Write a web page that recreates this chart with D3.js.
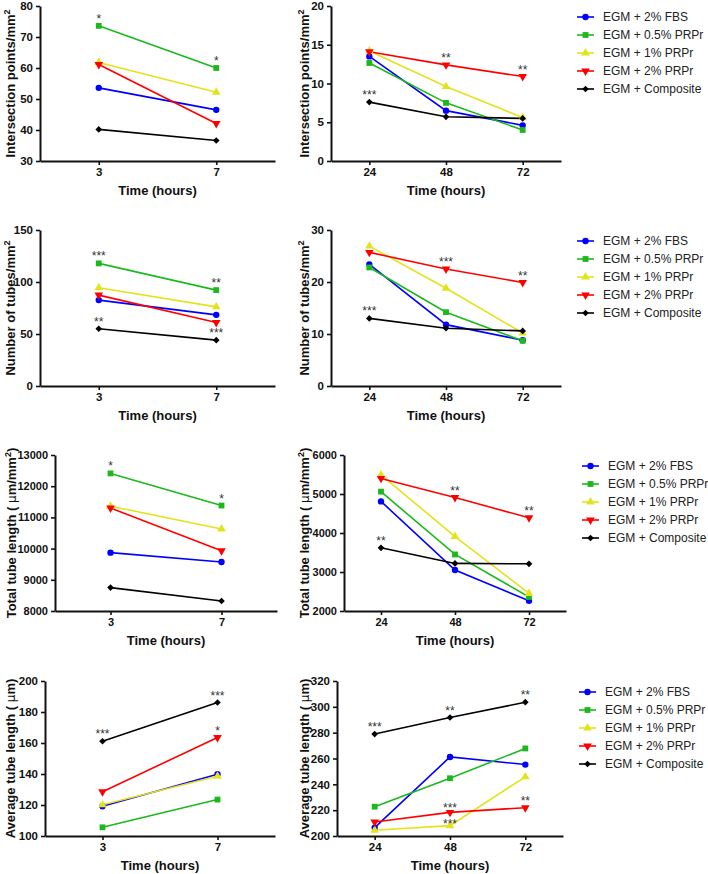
<!DOCTYPE html>
<html>
<head>
<meta charset="utf-8">
<script src="https://cdn.jsdelivr.net/npm/d3@7"></script>
<style>
  html, body { margin: 0; padding: 0; background: #fff; }
  svg { display: block; font-family: Arial, "Liberation Sans", sans-serif; }
</style>
</head>
<body>
<svg id="chart" width="708" height="874"></svg>
<script>
// ---------- data ----------
const groups = ["EGM + 2% FBS", "EGM + 0.5% PRPr", "EGM + 1% PRPr", "EGM + 2% PRPr", "EGM + Composite"];
const earlyTimes = [3, 7];
const lateTimes = [24, 48, 72];

const intersectEarly = [[53.6, 46.5], [73.6, 60.0], [61.8, 52.2], [61.1, 42.1], [40.2, 36.6]];
const intersectLate = [[13.5, 6.5, 4.6], [12.65, 7.5, 4.0], [14.2, 9.6, 5.6], [14.1, 12.4, 10.9], [7.6, 5.7, 5.5]];
const tubesEarly = [[82.6, 68.4], [117.9, 92.2], [94.4, 76.1], [87.4, 61.1], [55.1, 44.1]];
const tubesLate = [[23.4, 11.8, 8.8], [22.8, 14.2, 8.7], [26.9, 18.8, 10.2], [25.7, 22.5, 19.9], [13.0, 11.1, 10.6]];
const lengthEarly = [[9870, 9570], [12410, 11380], [11360, 10630], [11300, 9930], [8750, 8320]];
const lengthLate = [[4810, 3050, 2260], [5060, 3450, 2360], [5490, 3910, 2450], [5400, 4910, 4390], [3620, 3220, 3210]];
const avgEarly = [[119.2, 139.8], [105.6, 123.5], [120.1, 138.5], [128.6, 163.5], [161.1, 186.1]];
const avgLate = [[206.5, 261.2, 255.3], [222.7, 244.7, 267.8], [204.4, 208.0, 245.8], [210.8, 218.3, 221.9], [278.9, 291.7, 303.6]];

// significance marks: [group index, time index, label]
const intersectEarlyStars = [[1, 0, "*"], [1, 1, "*"]];
const intersectLateStars = [[4, 0, "***"], [3, 1, "**"], [3, 2, "**"]];
const tubesEarlyStars = [[1, 0, "***"], [1, 1, "**"], [4, 0, "**"], [4, 1, "***"]];
const tubesLateStars = [[4, 0, "***"], [3, 1, "***"], [3, 2, "**"]];
const lengthEarlyStars = [[1, 0, "*"], [1, 1, "*"]];
const lengthLateStars = [[4, 0, "**"], [3, 1, "**"], [3, 2, "**"]];
const avgEarlyStars = [[4, 0, "***"], [4, 1, "***"], [3, 1, "*"]];
const avgLateStars = [[4, 0, "***"], [4, 1, "**"], [4, 2, "**"], [3, 1, "***"], [2, 1, "***"], [3, 2, "**"]];

// axis ticks
const intersectEarlyTicks = [30, 40, 50, 60, 70, 80];
const intersectLateTicks = [0, 5, 10, 15, 20];
const tubesEarlyTicks = [0, 50, 100, 150];
const tubesLateTicks = [0, 10, 20, 30];
const lengthEarlyTicks = [8000, 9000, 10000, 11000, 12000, 13000];
const lengthLateTicks = [2000, 3000, 4000, 5000, 6000];
const avgEarlyTicks = [100, 120, 140, 160, 180, 200];
const avgLateTicks = [200, 220, 240, 260, 280, 300, 320];

// ---------- style ----------
const colors = ["#0000FF", "#1DB81D", "#E3E31B", "#FF0000", "#000000"];
const symbols = [d3.symbolCircle, d3.symbolSquare, d3.symbolTriangle, d3.symbolTriangle, d3.symbolSquare];
const symSizes = [32, 34, 32, 32, 22];
const symRot = [0, 0, 0, 180, 45];
// small vertical nudges (px) for crowded significance labels: "panelKey:group:time"
const starNudge = { "avgLate:3:1": 3, "avgLate:2:1": 5 };

const svg = d3.select("#chart");

function marker(g, i, x, y) {
  g.append("path")
    .attr("d", d3.symbol().type(symbols[i]).size(symSizes[i])())
    .attr("transform", `translate(${x},${y}) rotate(${symRot[i]})`)
    .attr("fill", colors[i]);
}

function yLabel(g, parts, x, yMid) {
  const t = g.append("text")
    .attr("transform", `translate(${x},${yMid}) rotate(-90)`)
    .attr("text-anchor", "middle")
    .attr("font-size", 13)
    .attr("font-weight", "bold")
    .attr("fill", "#111");
  parts.forEach(p => {
    const ts = t.append("tspan").text(p.t);
    if (p.sup) ts.attr("baseline-shift", "super").attr("font-size", 9);
    if (p.thin) ts.attr("font-weight", "normal").attr("font-family", "DejaVu Sans, sans-serif").attr("font-size", 12);
  });
}

function panel(cfg) {
  const g = svg.append("g");
  const x = d3.scalePoint().domain(cfg.times).range([cfg.x0, cfg.x1]).padding(0.5);
  const y = d3.scaleLinear().domain(cfg.domain).range([cfg.bottom, cfg.top]);

  const ya = g.append("g").attr("transform", `translate(${cfg.x0},0)`)
    .call(d3.axisLeft(y).tickValues(cfg.ticks).tickSize(4).tickSizeOuter(0).tickPadding(3).tickFormat(d3.format("d")));
  const xa = g.append("g").attr("transform", `translate(0,${cfg.bottom})`)
    .call(d3.axisBottom(x).tickSize(4).tickSizeOuter(0).tickPadding(3));
  [ya, xa].forEach(a => {
    a.select(".domain").attr("stroke", "#111").attr("stroke-width", 2);
    a.selectAll(".tick line").attr("stroke", "#111").attr("stroke-width", 1.6);
    a.selectAll(".tick text").attr("font-size", cfg.tickFont || 11.5).attr("font-weight", "bold")
      .attr("fill", "#111").attr("font-family", "Arial, Liberation Sans, sans-serif");
  });

  g.append("text")
    .attr("x", (cfg.x0 + cfg.x1) / 2).attr("y", cfg.bottom + 34)
    .attr("text-anchor", "middle").attr("font-size", 13).attr("font-weight", "bold").attr("fill", "#111")
    .text("Time (hours)");

  yLabel(g, cfg.label, cfg.labelX, (cfg.top + cfg.bottom) / 2);

  const line = d3.line().x((d, j) => x(cfg.times[j])).y(d => y(d));
  cfg.data.forEach((vals, i) => {
    g.append("path").attr("d", line(vals)).attr("fill", "none")
      .attr("stroke", colors[i]).attr("stroke-width", 1.6);
  });
  cfg.data.forEach((vals, i) => {
    vals.forEach((v, j) => marker(g, i, x(cfg.times[j]), y(v)));
  });
  cfg.stars.forEach(([i, j, s]) => {
    const nudge = starNudge[`${cfg.key}:${i}:${j}`] || 0;
    g.append("text").attr("x", x(cfg.times[j])).attr("y", y(cfg.data[i][j]) - 3 + nudge)
      .attr("text-anchor", "middle").attr("font-size", 12).attr("fill", "#333").text(s);
  });
}

function legend(x, yTop) {
  const g = svg.append("g");
  groups.forEach((name, i) => {
    const yy = yTop + i * 18;
    g.append("line").attr("x1", x).attr("x2", x + 17).attr("y1", yy).attr("y2", yy)
      .attr("stroke", colors[i]).attr("stroke-width", 1.6);
    marker(g, i, x + 8.5, yy);
    g.append("text").attr("x", x + 26).attr("y", yy).attr("dy", "0.35em")
      .attr("font-size", 12).attr("fill", "#222").text(name);
  });
}

const rows = [
  { key: "intersect", top: 6, bottom: 161, L: [40, 275], R: [331, 561], leg: 577, lx: 15,
    early: intersectEarly, late: intersectLate, es: intersectEarlyStars, ls: intersectLateStars,
    ed: [30, 80], ld: [0, 20], et: intersectEarlyTicks, lt: intersectLateTicks,
    label: [{ t: "Intersection points/mm" }, { t: "2", sup: true }] },
  { key: "tubes", top: 230, bottom: 386, L: [40, 275], R: [331, 561], leg: 577, lx: 15,
    early: tubesEarly, late: tubesLate, es: tubesEarlyStars, ls: tubesLateStars,
    ed: [0, 150], ld: [0, 30], et: tubesEarlyTicks, lt: tubesLateTicks,
    label: [{ t: "Number of tubes/mm" }, { t: "2", sup: true }] },
  { key: "length", top: 455, bottom: 611, L: [55, 277], R: [344, 566], leg: 582, lx: 16, tickFont: 11,
    early: lengthEarly, late: lengthLate, es: lengthEarlyStars, ls: lengthLateStars,
    ed: [8000, 13000], ld: [2000, 6000], et: lengthEarlyTicks, lt: lengthLateTicks,
    label: [{ t: "Total tube length ( " }, { t: "\u03BC", thin: true }, { t: "m/mm" }, { t: "2", sup: true }, { t: ")" }] },
  { key: "avg", top: 681, bottom: 836, L: [45, 275], R: [337, 563], leg: 579, lx: 15,
    early: avgEarly, late: avgLate, es: avgEarlyStars, ls: avgLateStars,
    ed: [100, 200], ld: [200, 320], et: avgEarlyTicks, lt: avgLateTicks,
    label: [{ t: "Average tube length ( " }, { t: "\u03BC", thin: true }, { t: "m)" }] }
];

rows.forEach(r => {
  panel({ key: r.key + "Early", x0: r.L[0], x1: r.L[1], top: r.top, bottom: r.bottom, times: earlyTimes, data: r.early,
    domain: r.ed, ticks: r.et, stars: r.es, label: r.label, labelX: r.lx, tickFont: r.tickFont });
  panel({ key: r.key + "Late", x0: r.R[0], x1: r.R[1], top: r.top, bottom: r.bottom, times: lateTimes, data: r.late,
    domain: r.ld, ticks: r.lt, stars: r.ls, label: r.label, labelX: 309, tickFont: r.tickFont });
  legend(r.leg, r.top + 11);
});
</script>
</body>
</html>
